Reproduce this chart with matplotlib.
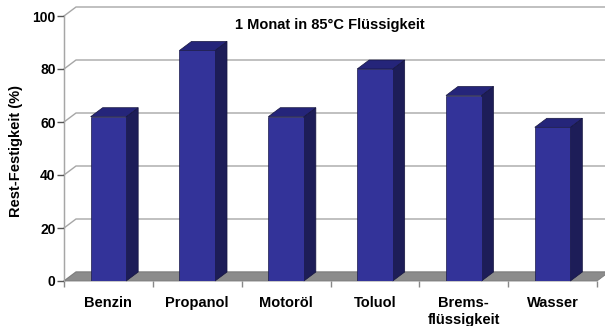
import matplotlib
matplotlib.use("Agg")
import matplotlib.pyplot as plt
from matplotlib.patches import Polygon

# Residual strength after one month at 85 °C in various fluids
categories = ["Benzin", "Propanol", "Motoröl", "Toluol", "Brems-\nflüssigkeit", "Wasser"]
values = [62, 87, 62, 80, 70, 58]
y_ticks = [0, 20, 40, 60, 80, 100]

title = "1 Monat in 85°C Flüssigkeit"
y_label = "Rest-Festigkeit (%)"

plt.rcParams["font.family"] = ["Liberation Sans", "DejaVu Sans"]
plt.rcParams["font.weight"] = "bold"

W, H, DPI = 605, 326, 100
fig = plt.figure(figsize=(W / DPI, H / DPI), dpi=DPI)
fig.patch.set_facecolor("white")

# front plane of the plot box, in pixels
left_px, right_px, bottom_px, top_px = 64, 597, 281, 16
ax = fig.add_axes([left_px / W, (H - bottom_px) / H,
                   (right_px - left_px) / W, (bottom_px - top_px) / H])
n = len(categories)
ax.set_xlim(0, n)
ax.set_ylim(0, 100)
ax.patch.set_alpha(0)

# depth of the 3-D projection, converted from pixels to data units
px_per_cat = (right_px - left_px) / n
px_per_val = (bottom_px - top_px) / 100
DX = 12 / px_per_cat
DY = 9 / px_per_val

grid_c = "#a6a6a6"
# back wall gridlines and side-wall diagonals
for v in y_ticks:
    ax.plot([0, DX, n + 2 * DX], [v, v + DY, v + DY], color=grid_c,
            lw=1.0, clip_on=False, zorder=1)
ax.plot([0, 0], [0, 100], color=grid_c, lw=1.0, clip_on=False, zorder=1)

# floor
floor = Polygon([(0, 0), (n, 0), (n + DX, DY), (DX, DY)], closed=True,
                facecolor="#8c8c8c", edgecolor="#7a7a7a", lw=0.6,
                clip_on=False, zorder=2)
ax.add_patch(floor)

# bars: front face, side face, top face
bw = 0.40
front_c, side_c, top_c = "#333399", "#1d1d58", "#25257a"
xs = [i + 0.5 for i in range(n)]
ax.bar(xs, values, width=bw, color=front_c, edgecolor="#1a1a4a",
       linewidth=0.5, zorder=4)
for x, v in zip(xs, values):
    x0, x1 = x - bw / 2, x + bw / 2
    side = Polygon([(x1, 0), (x1 + DX, DY), (x1 + DX, v + DY), (x1, v)],
                   closed=True, facecolor=side_c, edgecolor="#15153f",
                   lw=0.5, zorder=3, clip_on=False)
    top = Polygon([(x0, v), (x1, v), (x1 + DX, v + DY), (x0 + DX, v + DY)],
                  closed=True, facecolor=top_c, edgecolor="#15153f",
                  lw=0.5, zorder=3, clip_on=False)
    ax.add_patch(side)
    ax.add_patch(top)

# axes decoration
for s in ["top", "right", "bottom"]:
    ax.spines[s].set_visible(False)
ax.spines["left"].set_color(grid_c)
ax.set_yticks(y_ticks)
ax.set_yticklabels([str(t) for t in y_ticks], fontsize=10, fontweight="bold")
ax.tick_params(axis="y", length=5, width=1.0, color="#555555", pad=1)

ax.set_xticks(xs)
ax.set_xticklabels(categories, fontsize=10.5, fontweight="bold",
                   linespacing=1.25, va="top")
ax.tick_params(axis="x", length=0, pad=11)
ax.set_xticks(range(n + 1), minor=True)
ax.tick_params(axis="x", which="minor", length=4, width=1.0, color="#888888")

fig.text(330 / W, 1 - 25 / H, title, ha="center", va="center",
         fontsize=10.5, fontweight="bold")
fig.text(16 / W, 1 - 151 / H, y_label, ha="center", va="center",
         rotation=90, fontsize=10.5, fontweight="bold")

fig.savefig("out.png", dpi=DPI, facecolor="white")
